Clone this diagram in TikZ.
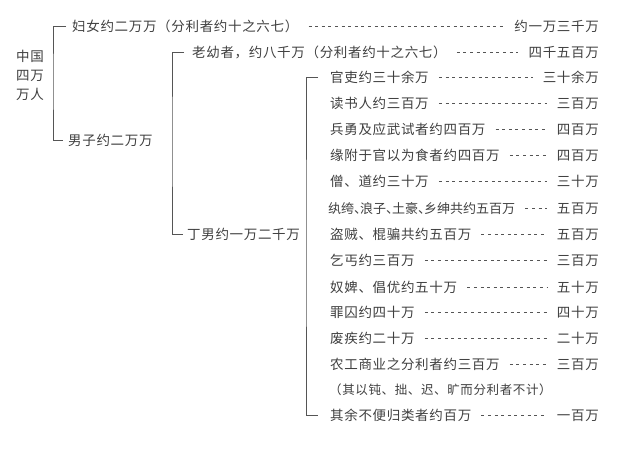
\documentclass[tikz,border=0pt]{standalone}
\usepackage{fontspec}
\newfontfamily\cjk[LetterSpace=5]{Noto Sans CJK SC}
\newfontfamily\cjktight{Noto Sans CJK SC}
\definecolor{txt}{HTML}{404040}
\definecolor{ln}{HTML}{555555}
\newcommand{\nc}{\makebox[6pt][l]{、}}
\begin{document}
\begin{tikzpicture}[x=1pt,y=-1pt,
  lbl/.style={font=\cjk\fontsize{13.5}{19}\selectfont, text=txt, inner sep=0pt,
    text height=11.8pt, text depth=1.6pt, anchor=west},
  val/.style={lbl, anchor=east},
  brk/.style={draw=ln, line width=0.8pt},
  dots/.style={draw=ln, line width=0.8pt, dash pattern=on 3pt off 3.6pt,
    shorten <=10pt, shorten >=10pt}]
\useasboundingbox[fill=white] (0,0) rectangle (620,448);

% root
\node[font=\cjk\fontsize{13.5}{19}\selectfont, text=txt, inner sep=0pt, align=center]
  (root) at (30,75) {中国\\四万\\万人};

% level 1
\node[lbl] (women) at (72,26) {妇女约二万万（分利者约十之六七）};
\node[val] (womenv) at (599,26) {约一万三千万};
\node[lbl] (men) at (68,140) {男子约二万万};
\coordinate (b1) at (53,80);
\draw[brk] ([xshift=-6pt]women.west) -| (b1) |- ([xshift=-5pt]men.west);
\draw[dots] (women.east) -- (womenv.west);

% level 2
\node[lbl] (old) at (192,52) {老幼者，约八千万（分利者约十之六七）};
\node[val] (oldv) at (599,52) {四千五百万};
\node[lbl] (adult) at (187,234) {丁男约一万二千万};
\coordinate (b2) at (172,140);
\draw[brk] ([xshift=-8pt]old.west) -| (b2) |- ([xshift=-4pt]adult.west);
\draw[dots] (old.east) -- (oldv.west);

% level 3
\node[lbl] (r1) at (330,77) {官吏约三十余万};
\node[val] (v1) at (599,77) {三十余万};
\node[lbl] (r2) at (330,103) {读书人约三百万};
\node[val] (v2) at (599,103) {三百万};
\node[lbl] (r3) at (330,129) {兵勇及应武试者约四百万};
\node[val] (v3) at (599,129) {四百万};
\node[lbl] (r4) at (330,155) {缘附于官以为食者约四百万};
\node[val] (v4) at (599,155) {四百万};
\node[lbl] (r5) at (330,181) {僧、道约三十万};
\node[val] (v5) at (599,181) {三十万};
\node[lbl, font=\cjktight\fontsize{13}{19}\selectfont] (r6) at (328,208) {纨绔\nc 浪子\nc 土豪\nc 乡绅共约五百万};
\node[val] (v6) at (599,208) {五百万};
\node[lbl] (r7) at (330,234) {盗贼、棍骗共约五百万};
\node[val] (v7) at (599,234) {五百万};
\node[lbl] (r8) at (330,260) {乞丐约三百万};
\node[val] (v8) at (599,260) {三百万};
\node[lbl] (r9) at (330,287) {奴婢、倡优约五十万};
\node[val] (v9) at (599,287) {五十万};
\node[lbl] (r10) at (330,312) {罪囚约四十万};
\node[val] (v10) at (599,312) {四十万};
\node[lbl] (r11) at (330,338) {废疾约二十万};
\node[val] (v11) at (599,338) {二十万};
\node[lbl] (r12) at (330,364) {农工商业之分利者约三百万};
\node[val] (v12) at (599,364) {三百万};
\node[lbl, font=\cjk\fontsize{12.5}{19}\selectfont] (note) at (329,389) {（其以钝、拙、迟、旷而分利者不计）};
\node[lbl] (r13) at (330,415) {其余不便归类者约百万};
\node[val] (v13) at (599,415) {一百万};

\coordinate (b3) at (306,240);
\draw[brk] ([xshift=-12pt]r1.west) -| (b3) |- ([xshift=-12pt]r13.west);

\foreach \i in {1,...,13} {
  \draw[dots] (r\i.east) -- (v\i.west);
}
\end{tikzpicture}
\end{document}
